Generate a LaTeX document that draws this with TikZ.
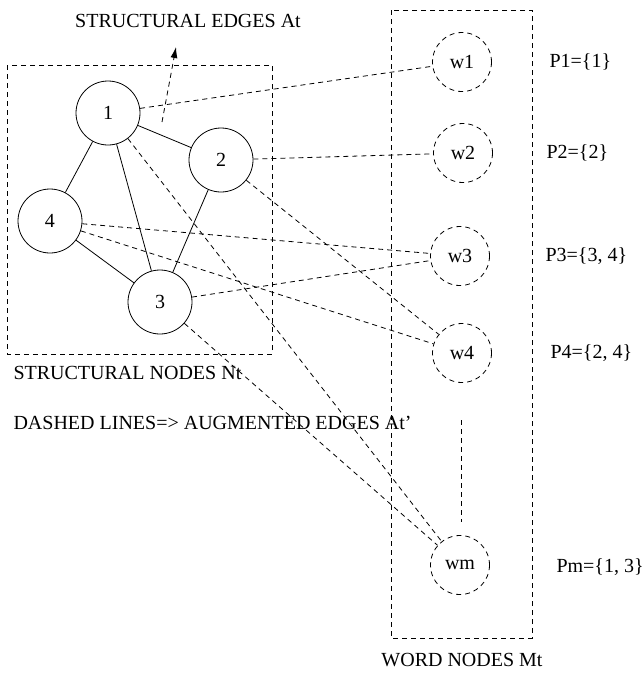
\documentclass[tikz,border=0pt]{standalone}
\usepackage{fontspec}
\setmainfont{Liberation Serif}
\usetikzlibrary{arrows.meta}

\begin{document}
\begin{tikzpicture}[
    x=1pt, y=-1pt,
    font=\fontsize{20}{24}\selectfont,
    snode/.style={circle, draw, line width=0.8pt, minimum size=64pt, inner sep=0pt},
    wnode/.style={circle, draw, line width=0.8pt, dash pattern=on 5pt off 4pt,
                  minimum size=59pt, inner sep=0pt},
    dline/.style={line width=0.8pt, dash pattern=on 5pt off 4pt},
    sline/.style={line width=0.8pt}
]
    \useasboundingbox (0,0) rectangle (643,678);

    % Structural graph
    \draw[dline] (7,65) rectangle (272,354);
    \node[snode] (n1) at (108,113) {1};
    \node[snode] (n2) at (221,160) {2};
    \node[snode] (n4) at (50,221) {4};
    \node[snode] (n3) at (160,302) {3};

    \draw[sline] (n1) -- (n4);
    \draw[sline] (n1) -- (n3);
    \draw[sline] (n1) -- (n2);
    \draw[sline] (n2) -- (n3);
    \draw[sline] (n4) -- (n3);

    \node (edges) at (188,21) {STRUCTURAL EDGES At};
    \coordinate (edgetail) at (162,122);
    \coordinate (edgetip) at (176,47);
    \draw[dline, -{Latex[length=11pt, width=7pt]}] (edgetail) -- (edgetip);

    \node[anchor=west] (nodes) at (10,373) {STRUCTURAL NODES Nt};
    \node[anchor=west] (legend) at (10,423) {DASHED LINES=> AUGMENTED EDGES At'};

    % Word nodes
    \draw[dline] (391,10) rectangle (532,638);
    \node[wnode] (w1) at (462,62) {w1};
    \node[wnode] (w2) at (463,153) {w2};
    \node[wnode] (w3) at (460,256) {w3};
    \node[wnode] (w4) at (462,353) {w4};
    \node[wnode] (wm) at (460,565) {wm};
    \coordinate (dotstop) at (461,420);
    \coordinate (dotsbot) at (461,522);
    \draw[dline] (dotstop) -- (dotsbot);

    \node (words) at (462,660) {WORD NODES Mt};

    \node[anchor=west] (p1) at (546,62) {P1=\{1\}};
    \node[anchor=west] (p2) at (543,153) {P2=\{2\}};
    \node[anchor=west] (p3) at (542,256) {P3=\{3, 4\}};
    \node[anchor=west] (p4) at (547,353) {P4=\{2, 4\}};
    \node[anchor=west] (pm) at (553,567) {Pm=\{1, 3\}};

    % Augmented edges
    \draw[dline] (n1) -- (w1);
    \draw[dline] (n2) -- (w2);
    \draw[dline] (n4) -- (w3);
    \draw[dline] (n3) -- (w3);
    \draw[dline] (n4) -- (w4);
    \draw[dline] (n2) -- (w4);
    \draw[dline] (n1) -- (wm);
    \draw[dline] (n3) -- (wm);

\end{tikzpicture}
\end{document}
